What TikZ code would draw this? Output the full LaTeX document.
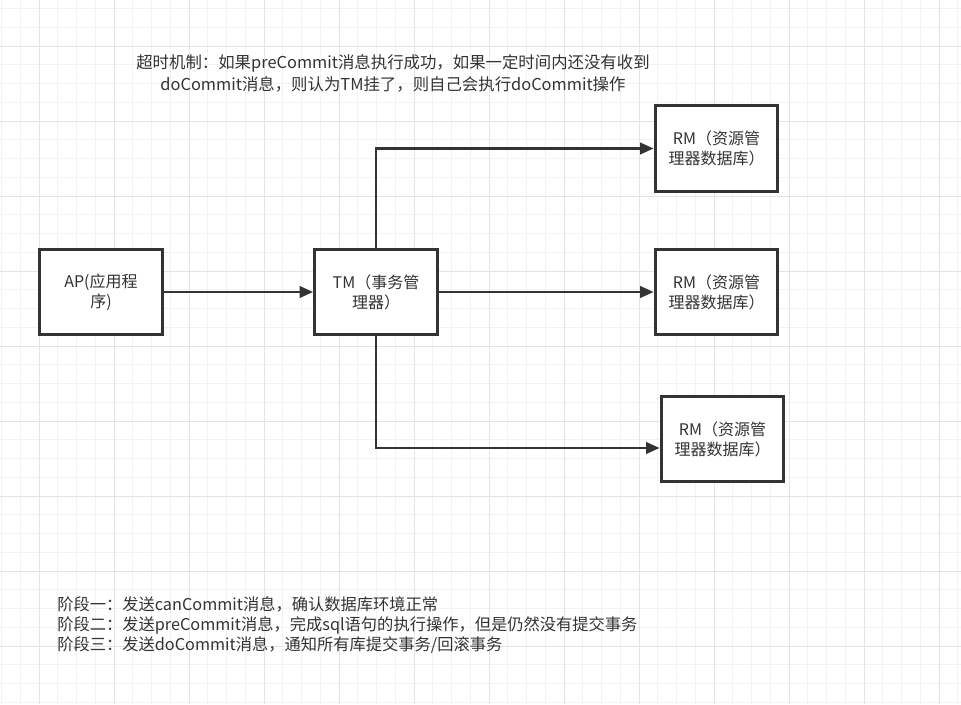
\documentclass[tikz,border=0pt]{standalone}
\usepackage{fontspec}
\setmainfont{Noto Sans CJK SC}
\usetikzlibrary{positioning,arrows.meta}
\definecolor{linegray}{HTML}{333333}
\definecolor{gridminor}{HTML}{F2F2F2}
\definecolor{gridmajor}{HTML}{E4E4E4}

\begin{document}
\begin{tikzpicture}[x=0.75pt, y=-0.75pt, >={Triangle[length=10pt,width=8.5pt]},
    box/.style={draw=linegray, line width=2.4pt, fill=white, minimum width=92pt,
      minimum height=64pt, align=center, text=linegray,
      font=\fontsize{12}{15}\selectfont},
    link/.style={->, draw=linegray, line width=1.9pt},
    note/.style={text=linegray, inner sep=0pt}]

    % Page and grid
    \useasboundingbox (0,0) rectangle (961,704);
    \fill[white] (0,0) rectangle (961,704);
    \foreach \i in {0,...,51}
      \draw[gridminor, line width=0.75pt] ({1.5+18.75*\i},0) -- ({1.5+18.75*\i},704);
    \foreach \i in {0,...,37}
      \draw[gridminor, line width=0.75pt] (0,{8.5+18.75*\i}) -- (961,{8.5+18.75*\i});
    \foreach \i in {0,...,12}
      \draw[gridmajor, line width=0.75pt] ({39+75*\i},0) -- ({39+75*\i},704);
    \foreach \i in {0,...,8}
      \draw[gridmajor, line width=0.75pt] (0,{46+75*\i}) -- (961,{46+75*\i});

    % Application and transaction manager
    \node[box] at (101,292) (ap) {AP(应用程\\序)};
    \node[box] at (376,292) (tm) {TM（事务管\\理器）};

    % Resource managers
    \node[box] at (716.5,148.5) (rma) {RM（资源管\\理器数据库）};
    \node[box] at (716.5,292) (rmb) {RM（资源管\\理器数据库）};
    \node[box] at (722.5,439) (rmc) {RM（资源管\\理器数据库）};

    % Connectors
    \draw[link] (ap) -- (tm);
    \draw[link] (tm) -- (rmb);
    \draw[link] (tm.north) |- (rma.west);
    \draw[link] (tm.south) |- ([yshift=-6.75pt]rmc.west);

    % Notes
    \node[note, align=center, font=\fontsize{12.3}{16.5}\selectfont] at (393,73) (timeout)
      {超时机制：如果preCommit消息执行成功，如果一定时间内还没有收到\\doCommit消息，则认为TM挂了，则自己会执行doCommit操作};
    \node[note, align=left, anchor=west, font=\fontsize{12.2}{15}\selectfont] at (57,625) (phases)
      {阶段一：发送canCommit消息，确认数据库环境正常\\
       阶段二：发送preCommit消息，完成sql语句的执行操作，但是仍然没有提交事务\\
       阶段三：发送doCommit消息，通知所有库提交事务/回滚事务};

\end{tikzpicture}
\end{document}
